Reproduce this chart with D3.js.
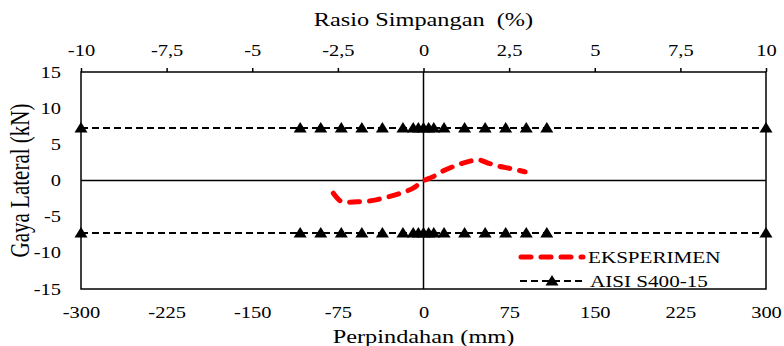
<!DOCTYPE html>
<html>
  <head>
    <meta charset="utf-8">
    <script src="https://cdn.jsdelivr.net/npm/d3@7/dist/d3.min.js"></script>
    <style>
      body { margin: 0; background: #ffffff; }
      text { font-family: "Liberation Serif", "Times New Roman", serif; fill: #000000; }
    </style>
  </head>
  <body>
    <script>

      // experiment curve (displacement in mm, lateral force in kN)
      var expMM = [-79, -70, -58, -44, -32, -20, -9, 0, 8, 17, 28, 40, 48, 56, 65, 75, 89];
      var expKN = [-1.75, -3.0, -2.95, -2.75, -2.3, -1.75, -1.05, -0.05, 0.5, 1.3, 2.05, 2.65, 2.85, 2.45, 2.0, 1.7, 1.2];

      // AISI S400-15 capacity, same value pushing and pulling
      var aisiMM = [-300, -108, -90, -72, -54, -36, -18, -9, -4.5, 0, 4.5, 9, 18, 36, 54, 72, 90, 108, 300];
      var aisiKN = 7.26;

      // tick values of the three axes
      var mmTicks = [-300, -225, -150, -75, 0, 75, 150, 225, 300];
      var pctTicks = [-10, -7.5, -5, -2.5, 0, 2.5, 5, 7.5, 10];
      var knTicks = [-15, -10, -5, 0, 5, 10, 15];

      var width = 784;
      var height = 346;
      // the original picture is stretched sideways, so is the text
      var stretch = 1.28;

      var pad = {top: 72, bottom: 57, left: 81, right: 18};

      // plain hyphen and decimal comma, like the original
      var fmt = function(d){
        return String(d).replace(".", ",");
      };

      var svg = d3.select("body")
                  .append("svg")
                  .attr("width", width)
                  .attr("height", height);

      var xScale = d3.scaleLinear()
                     .domain([-300, 300])
                     .range([pad.left, width - pad.right]);
      var pctScale = d3.scaleLinear()
                       .domain([-10, 10])
                       .range([pad.left, width - pad.right]);
      var yScale = d3.scaleLinear()
                     .domain([-15, 15])
                     .range([height - pad.bottom, pad.top]);

      // bottom axis, labels only
      var xAxis = svg.append("g")
                     .attr("transform", "translate(0," + (height - pad.bottom) + ")")
                     .call(d3.axisBottom(xScale).tickValues(mmTicks).tickSize(0).tickFormat(fmt));
      xAxis.select(".domain").remove();
      xAxis.selectAll("text")
           .attr("y", 18)
           .attr("font-size", 16)
           .attr("transform", "scale(" + stretch + ",1)");

      // top axis with the drift ratio
      var topAxis = svg.append("g")
                       .attr("transform", "translate(0," + pad.top + ")")
                       .call(d3.axisTop(pctScale).tickValues(pctTicks).tickSize(4).tickFormat(fmt));
      topAxis.select(".domain").remove();
      topAxis.selectAll("line").attr("stroke-width", 1.5);
      topAxis.selectAll("text")
             .attr("y", -16.5)
             .attr("font-size", 16)
             .attr("transform", "scale(" + stretch + ",1)");

      // left axis, labels only
      var yAxis = svg.append("g")
                     .attr("transform", "translate(" + pad.left + ",0)")
                     .call(d3.axisLeft(yScale).tickValues(knTicks).tickSize(0).tickFormat(fmt));
      yAxis.select(".domain").remove();
      yAxis.selectAll("text")
           .attr("x", -20 / stretch)
           .attr("font-size", 16)
           .attr("transform", "scale(" + stretch + ",1)");

      // frame round the plot
      svg.append("rect")
         .attr("x", xScale(-300))
         .attr("y", yScale(15))
         .attr("width", xScale(300) - xScale(-300))
         .attr("height", yScale(-15) - yScale(15))
         .attr("fill", "none")
         .attr("stroke", "#000")
         .attr("stroke-width", 1.5);

      // zero lines
      svg.append("line")
         .attr("x1", xScale(-300)).attr("x2", xScale(300))
         .attr("y1", yScale(0)).attr("y2", yScale(0))
         .attr("stroke", "#000").attr("stroke-width", 1.5);
      svg.append("line")
         .attr("x1", xScale(0)).attr("x2", xScale(0))
         .attr("y1", yScale(15)).attr("y2", yScale(-15))
         .attr("stroke", "#000").attr("stroke-width", 1.5);

      // triangle marker, a little wider than tall
      var triangle = function(x, y){
        return "M" + x + "," + (y - 6) + "L" + (x + 6.5) + "," + (y + 4.5)
               + "L" + (x - 6.5) + "," + (y + 4.5) + "Z";
      };

      // AISI lines, one for each direction
      [aisiKN, -aisiKN].forEach(function(kn){
        var pts = aisiMM.map(function(mm){ return [mm, kn]; });
        svg.append("path")
           .datum(pts)
           .attr("fill", "none")
           .attr("stroke", "#000")
           .attr("stroke-width", 2)
           .attr("stroke-dasharray", "7,4")
           .attr("d", d3.line()
                        .x(function(d){ return xScale(d[0]); })
                        .y(function(d){ return yScale(d[1]); }));
        svg.selectAll(null)
           .data(pts)
           .enter()
           .append("path")
           .attr("fill", "#000")
           .attr("d", function(d){ return triangle(xScale(d[0]), yScale(d[1])); });
      });

      // experiment curve
      var expData = expMM.map(function(mm, i){ return [mm, expKN[i]]; });
      svg.append("path")
         .datum(expData)
         .attr("fill", "none")
         .attr("stroke", "#ff0000")
         .attr("stroke-width", 5)
         .attr("stroke-linecap", "round")
         .attr("stroke-dasharray", "10,10")
         .attr("d", d3.line()
                      .curve(d3.curveMonotoneX)
                      .x(function(d){ return xScale(d[0]); })
                      .y(function(d){ return yScale(d[1]); }));

      // legend
      svg.append("line")
         .attr("x1", 521).attr("x2", 583)
         .attr("y1", 257).attr("y2", 257)
         .attr("stroke", "#ff0000")
         .attr("stroke-width", 5)
         .attr("stroke-linecap", "round")
         .attr("stroke-dasharray", "10,10");
      svg.append("text")
         .attr("transform", "translate(588,262.5) scale(" + stretch + ",1)")
         .attr("font-size", 16.5)
         .text("EKSPERIMEN");
      svg.append("line")
         .attr("x1", 520).attr("x2", 585)
         .attr("y1", 281).attr("y2", 281)
         .attr("stroke", "#000")
         .attr("stroke-width", 2)
         .attr("stroke-dasharray", "7,4");
      svg.append("path")
         .attr("fill", "#000")
         .attr("d", triangle(552, 281));
      svg.append("text")
         .attr("transform", "translate(590,286.5) scale(" + stretch + ",1)")
         .attr("font-size", 16.5)
         .text("AISI S400-15");

      // axis titles
      svg.append("text")
         .attr("transform", "translate(" + xScale(0) + ",26) scale(" + stretch + ",1)")
         .attr("text-anchor", "middle")
         .attr("font-size", 19)
         .attr("xml:space", "preserve")
         .text("Rasio Simpangan  (%)");
      svg.append("text")
         .attr("transform", "translate(" + xScale(0) + ",343) scale(" + stretch + ",1)")
         .attr("text-anchor", "middle")
         .attr("font-size", 19)
         .text("Perpindahan (mm)");
      svg.append("text")
         .attr("transform", "translate(29," + yScale(0) + ") scale(" + stretch + ",1) rotate(-90)")
         .attr("text-anchor", "middle")
         .attr("font-size", 21)
         .text("Gaya Lateral (kN)");
    </script>
  </body>
</html>
